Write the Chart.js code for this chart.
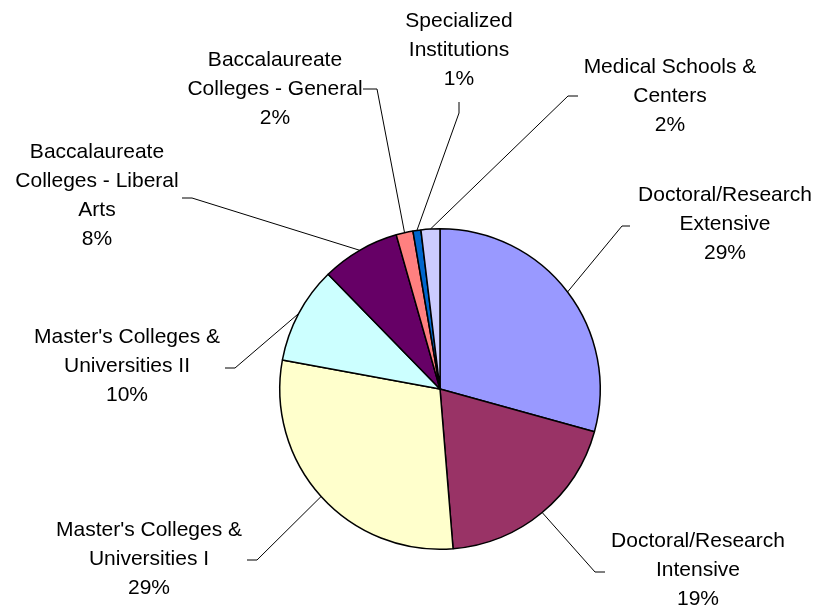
<!DOCTYPE html>
<html>
<head>
<meta charset="utf-8">
<script src="https://cdn.jsdelivr.net/npm/chart.js@4/dist/chart.umd.min.js"></script>
<style>
  html, body { margin: 0; padding: 0; background: #fff; }
  #wrap { width: 817px; height: 609px; }
</style>
</head>
<body>
<div id="wrap"><canvas id="pieChart" width="817" height="609"></canvas></div>
<script>
// Data
const categories = [
    ['Doctoral/Research', 'Extensive'],
    ['Doctoral/Research', 'Intensive'],
    ["Master's Colleges &", 'Universities I'],
    ["Master's Colleges &", 'Universities II'],
    ['Baccalaureate', 'Colleges - Liberal', 'Arts'],
    ['Baccalaureate', 'Colleges - General'],
    ['Specialized', 'Institutions'],
    ['Medical Schools &', 'Centers']
];
const shares = [29.3, 19.4, 29.2, 9.8, 7.9, 1.7, 0.8, 1.9];
const sliceColors = ['#9999FF', '#993366', '#FFFFCC', '#CCFFFF', '#660066', '#FF8080', '#0066CC', '#CCCCFF'];

// Label placement: text centre x, first line y, leader anchor and elbow
const labelLayout = [
    { cx: 725, y: 195, anchor: [630, 226], elbow: [622, 226] },
    { cx: 698, y: 541, anchor: [605, 572], elbow: [595, 572] },
    { cx: 149, y: 530, anchor: [247, 560], elbow: [257, 560] },
    { cx: 127, y: 337, anchor: [225, 368], elbow: [235, 368] },
    { cx: 97,  y: 152, anchor: [182, 198], elbow: [192, 198] },
    { cx: 275, y: 60,  anchor: [363, 89],  elbow: [377, 89] },
    { cx: 459, y: 21,  anchor: [459, 102], elbow: [459, 113] },
    { cx: 670, y: 67,  anchor: [578, 96],  elbow: [568, 96] }
];
const lineHeight = 29;

// Outside labels with leader lines
const outsideLabels = {
    id: 'outsideLabels',
    afterDatasetsDraw(chart) {
        const ctx = chart.ctx;
        const arcs = chart.getDatasetMeta(0).data;
        const total = shares.reduce((a, b) => a + b, 0);
        ctx.save();
        ctx.strokeStyle = '#000';
        ctx.lineWidth = 1;
        arcs.forEach((arc, i) => {
            const p = arc.getProps(['x', 'y', 'startAngle', 'endAngle', 'outerRadius'], true);
            const mid = (p.startAngle + p.endAngle) / 2;
            const sx = p.x + Math.cos(mid) * p.outerRadius;
            const sy = p.y + Math.sin(mid) * p.outerRadius;
            const lay = labelLayout[i];
            ctx.beginPath();
            ctx.moveTo(lay.anchor[0], lay.anchor[1]);
            ctx.lineTo(lay.elbow[0], lay.elbow[1]);
            ctx.lineTo(sx, sy);
            ctx.stroke();

            const lines = categories[i].concat([Math.round(shares[i] / total * 100) + '%']);
            ctx.fillStyle = '#000';
            ctx.font = '21px "Liberation Sans", Arial, sans-serif';
            ctx.textAlign = 'center';
            ctx.textBaseline = 'middle';
            lines.forEach((t, k) => ctx.fillText(t, lay.cx, lay.y + k * lineHeight));
        });
        ctx.restore();
    }
};

const ctx = document.getElementById('pieChart').getContext('2d');
new Chart(ctx, {
    type: 'pie',
    data: {
        labels: categories.map(c => c.join(' ')),
        datasets: [{
            data: shares,
            backgroundColor: sliceColors,
            borderColor: '#000',
            borderWidth: 1.5,
            hoverOffset: 0
        }]
    },
    options: {
        responsive: false,
        animation: false,
        layout: { padding: { left: 279, right: 216, top: 228, bottom: 59 } },
        plugins: {
            legend: { display: false },
            tooltip: { enabled: false }
        }
    },
    plugins: [outsideLabels]
});
</script>
</body>
</html>
